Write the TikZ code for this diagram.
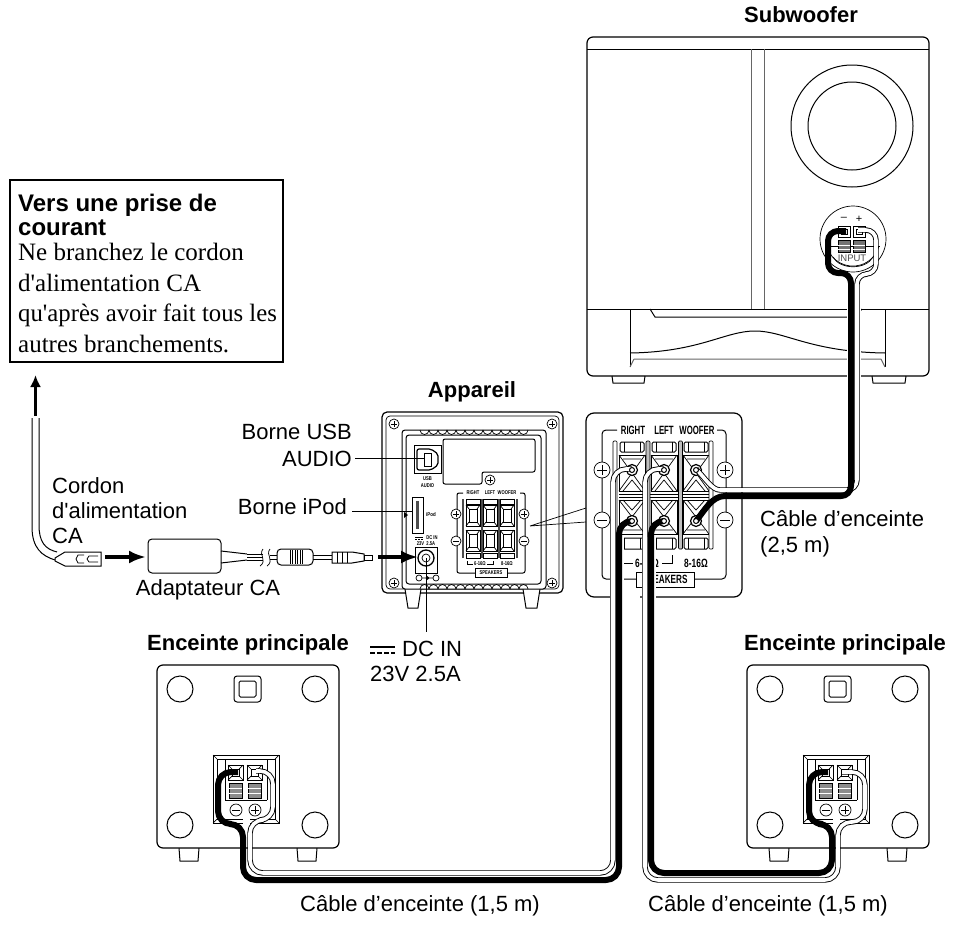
\documentclass[tikz,border=0pt]{standalone}
\usepackage{fontspec}
\setmainfont{Liberation Serif}[Ligatures=TeXOff]
\setsansfont{Liberation Sans}[Ligatures=TeXOff]
\usetikzlibrary{arrows.meta}
\newcommand{\fsz}[1]{\fontsize{#1}{#1}\selectfont}
\newcommand{\cond}[2]{\scalebox{#1}[1]{#2}}
\tikzset{
 ln/.style={line width=1pt,draw=black},
 thn/.style={line width=.7pt,draw=black},
 gline/.style={line width=1pt,draw=black!60},
 lab/.style={inner sep=0pt,font=\sffamily\fsz{22},anchor=base west},
 labr/.style={inner sep=0pt,font=\sffamily\fsz{22},anchor=base east},
 labc/.style={inner sep=0pt,font=\sffamily\fsz{22},anchor=base},
 head/.style={inner sep=0pt,font=\sffamily\bfseries\fsz{22},anchor=base},
 tiny/.style={inner sep=0pt,font=\sffamily\bfseries\fsz{5.5},anchor=center},
 small/.style={inner sep=0pt,font=\sffamily\bfseries\fsz{12},anchor=center},
 wcout/.style={line width=5.4pt,draw=black,line join=round},
 wcin/.style={line width=3.6pt,draw=white,line join=round},
 bc/.style={line width=6pt,draw=black,line join=round},
 halo/.style={line width=14pt,draw=white},
 bigarrow/.style={line width=4.5pt,-{Latex[length=17pt,width=13pt]}},
 note/.style={inner sep=0pt,font=\fsz{25},anchor=base west},
 noteh/.style={inner sep=0pt,font=\sffamily\bfseries\fsz{24},anchor=base west},
}
\begin{document}
\begin{tikzpicture}[x=1pt,y=-1pt]
\useasboundingbox (0,0) rectangle (954,926);
% note box
\draw[line width=1.6pt] (10,180) rectangle (283,362);
\node[noteh] (n1) at (18,211) {Vers une prise de};
\node[noteh] (n2) at (18,235) {courant};
\node[note] (n3) at (18,260) {Ne branchez le cordon};
\node[note] (n4) at (18,291) {d'alimentation CA};
\node[note] (n5) at (18,321) {\cond{.99}{qu'après avoir fait tous les}};
\node[note] (n6) at (18,352) {autres branchements.};
% subwoofer
\node[head] (subt) at (801,23) {Subwoofer};
\draw[line width=1.2pt,rounded corners=6pt] (587,37) rectangle (929,376);
\draw[ln] (587,49) -- (929,49);
\draw[gline] (751,49) -- (751,309) (764,49) -- (764,309);
\draw[ln] (587,309) -- (929,309);
\draw[ln] (852,126) circle (61) (852,126) circle (44);
\draw[ln] (612,376) -- (613,383) -- (644,383) -- (645,376);
\draw[ln] (872,376) -- (873,383) -- (905,383) -- (906,376);
\draw[ln] (630,309) -- (630,367) (885,309) -- (885,367);
\draw[ln] (650,309) -- (655,317) -- (855,317) -- (862,309);
\draw[ln] (630,353) .. controls (700,352) and (725,331) .. (755,331) .. controls (785,331) and (810,352) .. (885,353);
\draw[gline] (634,359) -- (881,359) (630,367) -- (634,359) (885,367) -- (881,359);
% subwoofer input
\draw[thn] (853,239) circle (33);
\draw[thn] (827,247) arc[start angle=163,end angle=17,radius=27];
\draw[thn] (833,257) .. controls (840,270) and (866,270) .. (873,257);
\draw[thn] (826,246) -- (880,246);
\foreach \a in {838,853}{
 \draw[fill=white,thn] (\a,226) rectangle ++(12,11);
 \draw[thn] (\a+3,229) rectangle ++(6,5);
 \draw[thn,fill=black!55] (\a,240) rectangle ++(12,12);
 \draw[thn,white] (\a,245) -- ++(12,0) (\a,249) -- ++(12,0);
}
\node[inner sep=0pt,font=\sffamily\fsz{11}] (sm) at (844,219) {–};
\node[inner sep=0pt,font=\sffamily\fsz{11}] (sp) at (859,219) {+};
\node[inner sep=0pt,font=\sffamily\fsz{9.5},text=black!70] (sinp) at (852,258) {INPUT};
% power cord
\coordinate (c1a) at (32,418); \coordinate (c1b) at (39,418);
\draw[ln] (c1a) -- (32,527) .. controls (32,548) and (42,556) .. (55,560);
\draw[ln] (c1b) -- (39,525) .. controls (39,542) and (45,549) .. (57,552);
\draw[ln,fill=white] (55,558) -- (65,552) -- (101,552) -- (101,566) -- (65,566) -- (55,561) -- cycle;
\draw[thn] (84,555) -- (78,555) -- (76,559) -- (78,563) -- (84,563);
\draw[thn] (98,556) -- (89,556) -- (87,559) -- (89,562) -- (98,562);
\draw[line width=3.5pt,-{Latex[length=12pt,width=11pt]}] (35.5,416) -- (35.5,375);
\coordinate (a1s) at (105,557); \coordinate (a1e) at (146,557);
\draw[bigarrow] (a1s) -- (a1e);
\draw[ln,rounded corners=4pt] (148,539) rectangle (221,573);
\draw[ln] (221,551) -- (247,554) (221,563) -- (247,560);
\draw[thn] (247,554) -- (263,554) (247,557) -- (263,557) (247,560) -- (263,560);
\draw[thn] (263,549) .. controls (258,555) and (268,560) .. (260,566);
\draw[thn] (270,549) .. controls (265,555) and (275,560) .. (267,566);
\draw[thn] (270,555) -- (277,555) (270,559) -- (277,559);
\draw[ln,rounded corners=4pt] (277,549) rectangle (313,565);
\foreach \a in {290,292.5,295,297.5,300,302.5}{\draw[thn] (\a,550) -- (\a,564);}
\draw[thn] (313,555) -- (332,555) (313,559) -- (332,559);
\draw[ln] (332,552) -- (352,552) -- (364,554) -- (364,561) -- (352,563) -- (332,563) -- cycle;
\draw[thn] (337,552) -- (337,563) (342,552) -- (342,563) (347,552) -- (347,563);
\draw[ln] (364,555) rectangle (372,560);
% labels left
\node[lab] (cord1) at (52,493) {Cordon};
\node[lab] (cord2) at (52,518) {d'alimentation};
\node[lab] (cord3) at (52,543) {CA};
\node[labc] (adapt) at (208,595) {Adaptateur CA};
\node[labr] (usb1) at (352,439) {Borne USB};
\node[labr] (usb2) at (352,466) {AUDIO};
\node[labr] (ipod) at (347,514) {Borne iPod};
% unit rear
\node[head] (appt) at (472,397) {Appareil};
\draw[line width=1.2pt,rounded corners=5pt] (382,412) rectangle (563,593);
\draw[thn,rounded corners=4pt] (386,416) rectangle (559,589);
\draw[ln,fill=white] (405,589) -- (408,608) -- (418,608) -- (421,589);
\draw[ln,fill=white] (523,589) -- (526,608) -- (537,608) -- (540,589);
\draw[ln,fill=white,rounded corners=3pt] (402,430) rectangle (546,589);
\draw[ln,rounded corners=3pt] (406,435) rectangle (541,584);
\foreach \a in {420,429,...,519}{
 \draw[thn] (\a,430) arc[start angle=180,end angle=0,radius=4.5];
 \draw[thn] (\a+.0,589) arc[start angle=180,end angle=360,radius=4.5];
}
\foreach \p in {(394,424),(552,424),(394,583),(552,583),(490,480)}{
 \draw[thn,fill=white] \p circle (5);
 \draw[thn] \p ++(-3,0) -- ++(6,0) \p ++(0,-3) -- ++(0,6);
}
\draw[ln] (414,445) rectangle (441,473);
\draw[line width=1.2pt,rounded corners=2pt] (417,449) -- (431,449) -- (438,454) -- (438,465) -- (431,470) -- (417,470) -- cycle;
\draw[thn] (424,453) rectangle (431,466);
\node[tiny] (ua1) at (427.5,479) {\cond{.75}{USB}};
\node[tiny] (ua2) at (427.5,486) {\cond{.75}{AUDIO}};
\draw[ln,rounded corners=2pt] (443,439) -- (535,439) -- (535,472) -- (482,472) -- (482,484) -- (443,484) -- cycle;
% iPod port
\draw[ln] (412,497) rectangle (423,533);
\draw[line width=2.6pt,black!70] (417.5,501) -- (417.5,529);
\fill (404,512) -- (408,515) -- (404,518) -- cycle;
\node[tiny] (ipt) at (431,515) {\cond{.8}{iPod}};
% DC
\draw[ln] (415,547) rectangle (437,573);
\draw[line width=1.3pt,fill=white] (426,558) circle (8);
\draw[thn] (426,558) circle (4);
\node[tiny] (dc1) at (432,538) {\cond{.75}{DC IN}};
\node[tiny] (dc2) at (426,544) {\cond{.75}{23V\ \ 2.5A}};
\draw[thn] (415,537) -- (423,537);
\draw[thn,dash pattern=on 2pt off 1pt] (415,539.5) -- (423,539.5);
\draw[thn] (419,578) circle (3) (436,578) circle (3) (422,578) -- (433,578);
\fill (427.5,578) circle (1.8);
\coordinate (a2s) at (378,557); \coordinate (a2e) at (418,557);
\draw[bigarrow] (a2s) -- (a2e);
% mini speakers block
\draw[ln,rounded corners=2pt] (463,493) -- (457,493) -- (457,573) -- (475,573);
\draw[ln,rounded corners=2pt] (507,573) -- (525,573) -- (525,493) -- (520,493);
\node[tiny] (mr) at (473,493) {\cond{.75}{RIGHT}};
\node[tiny] (ml) at (490,493) {\cond{.75}{LEFT}};
\node[tiny] (mw) at (507,493) {\cond{.75}{WOOFER}};
\foreach \a in {473,490,507}{
 \draw[thn] (\a-7,499) rectangle (\a+7,504);
 \draw[thn] (\a-7,553) rectangle (\a+7,558);
 \foreach \b in {505,530}{
  \draw[thn,fill=white] (\a-7,\b) rectangle (\a+7,\b+21);
  \draw[thn] (\a-4,\b+4) rectangle (\a+4,\b+17);
  \draw[thn] (\a-7,\b) -- (\a-4,\b+4) (\a+7,\b) -- (\a+4,\b+4) (\a-7,\b+21) -- (\a-4,\b+17) (\a+7,\b+21) -- (\a+4,\b+17);
 }
}
\foreach \a in {463,481.5,498.5,517}{\draw[line width=2pt,black!70] (\a,499) -- (\a,558);}
\foreach \p in {456,524}{
 \draw[thn,fill=white] (\p,514) circle (5);
 \draw[thn] (\p-3,514) -- ++(6,0) (\p,511) -- ++(0,6);
 \draw[thn,fill=white] (\p,541) circle (5);
 \draw[thn] (\p-3,541) -- ++(6,0);
}
\draw[thn] (467,561) -- (467,564) -- (473,564) (487,564) -- (493,564) -- (493,561);
\node[tiny] (m6) at (480,564) {\cond{.75}{6-16Ω}};
\node[tiny] (m8) at (507,564) {\cond{.75}{8-16Ω}};
\draw[thn,fill=white] (475,568) rectangle (507,577);
\node[tiny] (msp) at (491,572.5) {\cond{.75}{SPEAKERS}};
% leaders
\coordinate (lu) at (425,458); \coordinate (li) at (412,511); \coordinate (ld) at (426,632);
\draw[ln] (usb2.base east) ++(3,-8) -- (lu);
\draw[ln] (ipod.base east) ++(5,-3) -- (li);
\draw[ln] (426,558) -- (ld);
% enlargement lines
\coordinate (z0) at (530,526); \coordinate (z1) at (586,508); \coordinate (z2) at (586,522);
\draw[thn] (z0) -- (z1) (z0) -- (z2);
% amp panel enlargement
\draw[line width=1.2pt,rounded corners=8pt] (586,413) rectangle (742,597);
\draw[ln,rounded corners=4pt] (617,430) -- (602,430) -- (602,579) -- (636,579);
\draw[ln,rounded corners=4pt] (694,579) -- (726,579) -- (726,430) -- (717,430);
\node[small] (pr) at (633,430) {\cond{.65}{RIGHT}};
\node[small] (pl) at (664,430) {\cond{.65}{LEFT}};
\node[small] (pw) at (697,430) {\cond{.65}{WOOFER}};
\foreach \a in {632,664,696}{
 \draw[ln,rounded corners=1.5pt] (\a-12,442) rectangle (\a+12,452);
 \draw[ln,rounded corners=1.5pt] (\a-12,538) rectangle (\a+12,549);
 \draw[thn] (\a-8,442) -- (\a-8,452) (\a+8,442) -- (\a+8,452) (\a-8,538) -- (\a-8,549) (\a+8,538) -- (\a+8,549);
 \draw[ln] (\a-13,455) rectangle (\a+13,491);
 \draw[ln] (\a-13,500) rectangle (\a+13,534);
 \draw[thn] (\a-13,455) -- (\a+13,491) (\a+13,455) -- (\a-13,491);
 \draw[thn] (\a-13,500) -- (\a+13,534) (\a+13,500) -- (\a-13,534);
 \draw[thn] (\a-9,491) -- (\a,480) -- (\a+9,491) (\a-9,459) -- (\a+9,459);
 \draw[thn] (\a-9,500) -- (\a,510) -- (\a+9,500) (\a-9,530) -- (\a+9,530);
 \draw[line width=1.2pt,fill=white] (\a,470) circle (5.5);
 \draw[line width=1.2pt,fill=white] (\a,521) circle (5.5);
}
\draw[thn] (619,494) -- (709,494) (619,497) -- (709,497);
\foreach \a/\c in {615/0,648/25,680.5/25,711/0}{
 \draw[thn,fill=black!\c,rounded corners=1pt] (\a-2,441) rectangle (\a+2,549);
}
\foreach \p in {602,725}{
 \draw[thn,fill=white] (\p,470) circle (8);
 \draw[thn] (\p-5,470) -- ++(10,0) (\p,465) -- ++(0,10);
 \draw[thn,fill=white] (\p,520) circle (8);
 \draw[thn] (\p-5,520) -- ++(10,0);
}
\draw[ln] (623,555) -- (623,563) -- (633,563) (662,563) -- (672,563) -- (672,555);
\node[small] (p6) at (647,563) {\cond{.7}{6-16Ω}};
\node[small] (p8) at (696,563) {\cond{.7}{8-16Ω}};
\draw[ln,fill=white] (636,572) rectangle (694,587);
\node[small] (psp) at (665,579.5) {\cond{.68}{SPEAKERS}};
% main speakers
\foreach \dx/\nm in {0/a,590/b}{
 \begin{scope}[xshift=\dx pt]
  \draw[ln] (179,848) -- (180,861) -- (198,861) -- (199,848);
  \draw[ln] (297,848) -- (298,861) -- (316,861) -- (317,848);
  \draw[line width=1.2pt,rounded corners=6pt,fill=white] (157,665) rectangle (339,848);
  \foreach \p in {(180,689),(315,689),(180,825),(315,825)}{\draw[ln] \p circle (13);}
  \draw[ln,rounded corners=3pt] (234,676) rectangle (261,702);
  \draw[ln,rounded corners=1.5pt] (239,681) rectangle (256,697);
  \draw[ln] (213,755) rectangle (279,823);
  \draw[thn] (217,759) rectangle (275,819);
  \draw[thn] (213,755) -- (217,759) (279,755) -- (275,759) (213,823) -- (217,819) (279,823) -- (275,819);
  \draw[ln] (225,759) -- (225,800) (267,759) -- (267,800);
  \draw[thn] (225,800) -- (267,800);
  \foreach \a in {228,247}{
   \draw[thn,fill=white] (\a,765) rectangle ++(15,15);
   \draw[thn] (\a+4,769) rectangle ++(7,7);
   \draw[thn] (\a,765) -- (\a+4,769) (\a+15,765) -- (\a+11,769) (\a,780) -- (\a+4,776) (\a+15,780) -- (\a+11,776);
   \draw[thn,fill=black!45] (\a+1,783) rectangle ++(13,15);
   \draw[thn,white] (\a+1,788) -- ++(13,0) (\a+1,793) -- ++(13,0);
  }
  \draw[thn] (236,810) circle (6) (255,810) circle (6);
  \draw[thn] (232,810) -- (240,810) (251,810) -- (259,810) (255,806) -- (255,814);
 \end{scope}
}
\node[head] (ent1) at (248,650) {Enceinte principale};
\node[head] (ent2) at (845,650) {Enceinte principale};
% halos
\draw[halo] (854,290) -- (854,386);
\draw[line width=7pt,white] (246,815) -- (246,830) (836,815) -- (836,830);
\draw[white,line width=30pt] (625,591) -- (625,600);
\draw[halo] (617,537) -- (617,600) (649,537) -- (649,600);
% cables: white ones
\foreach \st in {wcout,wcin}{
 \draw[\st,rounded corners=13pt] (632,469) -- (613,469) -- (613,873) -- (250,873) -- (250,820) -- (273,820) -- (273,771) -- (256,771);
 \draw[\st,rounded corners=13pt] (664,469) -- (645,469) -- (645,880) -- (838,880) -- (838,822) -- (865,822) -- (865,772) -- (842,772);
 \draw[\st,rounded corners=10pt] (696,469) .. controls (705,478) and (712,490) .. (730,490) -- (857,490) -- (857,274) -- (876,274) -- (876,230) -- (858,230);
}
% cables: black ones
\draw[bc,rounded corners=13pt] (632,521) -- (619,521) -- (619,880) -- (243,880) -- (243,824) -- (218,824) -- (218,772) -- (238,772);
\draw[bc,rounded corners=13pt] (664,521) -- (651,521) -- (651,873) -- (832,873) -- (832,824) -- (809,824) -- (809,772) -- (828,772);
\draw[bc,rounded corners=10pt] (696,521) .. controls (705,510) and (712,496) .. (735,496) -- (851,496) -- (851,273) -- (828,273) -- (828,231) -- (846,231);
% terminal rings over cable ends
\foreach \p in {(632,470),(664,470),(696,470),(632,521),(664,521),(696,521)}{\draw[line width=1pt,fill=white] \p circle (2.5);}
% bottom labels
\node[lab] (cab0a) at (760,526) {Câble d’enceinte};
\node[lab] (cab0b) at (760,552) {(2,5 m)};
\node[labc] (cab1) at (420,911) {Câble d’enceinte (1,5 m)};
\node[labc] (cab2) at (768,911) {Câble d’enceinte (1,5 m)};
% DC label
\draw[line width=2pt] (370,647) -- (395,647);
\draw[line width=2pt,dash pattern=on 5pt off 2pt] (370,653) -- (395,653);
\node[lab] (dcin) at (402,656) {DC IN};
\node[lab] (dcv) at (370,681) {23V 2.5A};
\end{tikzpicture}
\end{document}
